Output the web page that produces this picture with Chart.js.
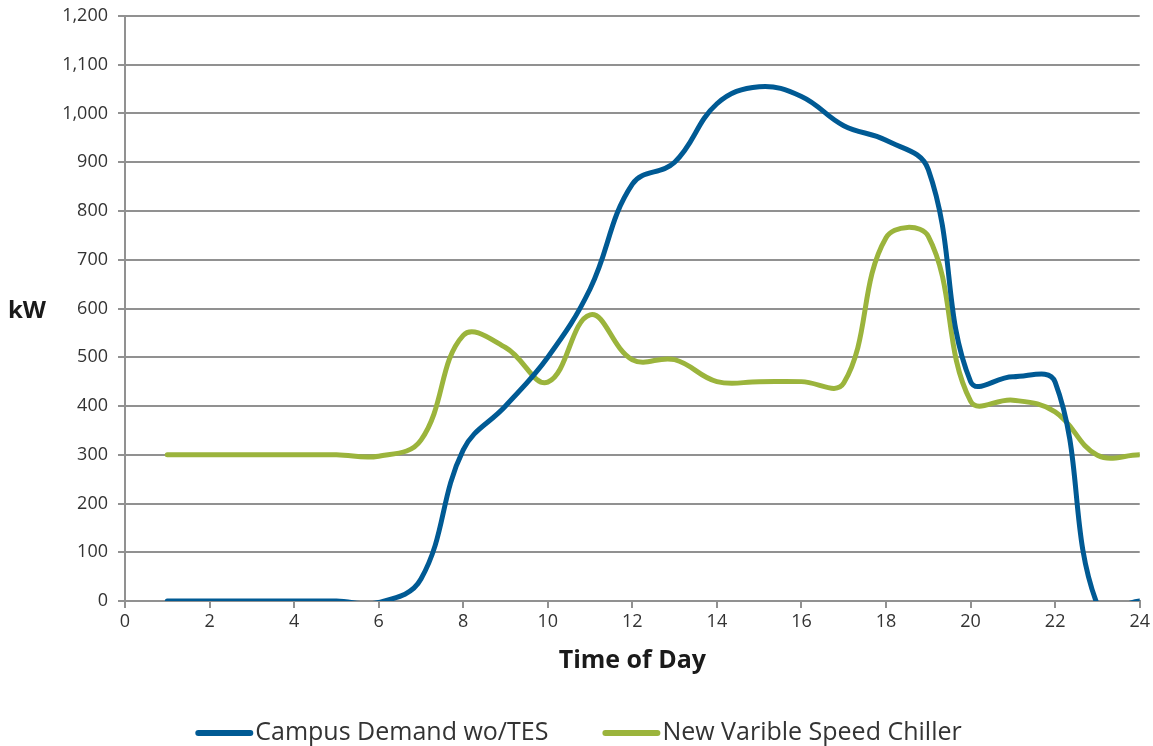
<!DOCTYPE html>
<html>
<head>
<meta charset="utf-8">
<script src="https://cdn.jsdelivr.net/npm/chart.js@4.4.0/dist/chart.umd.min.js"></script>
<style>
  html, body { margin: 0; padding: 0; background: #fff; }
  #wrap { width: 1153px; height: 746px; position: relative; }
</style>
</head>
<body>
<div id="wrap"><canvas id="loadChart"></canvas></div>
<script>
const hours = [1, 2, 3, 4, 5, 6, 7, 8, 9, 10, 11, 12, 13, 14, 15, 16, 17, 18, 19, 20, 21, 22, 23, 24];
const campusDemand = [0, 0, 0, 0, 0, -3, 45, 310, 400, 500, 640, 855, 900, 1020, 1055, 1035, 975, 945, 885, 450, 460, 449, -8, 0];
const varSpeedChiller = [300, 300, 300, 300, 300, 297, 330, 545, 520, 449, 587, 495, 495, 450, 450, 450, 447, 745, 748, 410, 412, 388, 299, 300];
const seriesNames = ['Campus Demand wo/TES', 'New Varible Speed Chiller'];

const chartConfig = {
    fontColor: '#333333',
    gridColor: '#919191',
    blue: '#005a94',
    green: '#9bb43c',
    font: '"Open Sans", Lato, sans-serif'
};

function toPoints(values) {
    return hours.map((h, i) => ({ x: h, y: values[i] }));
}

// horizontal "kW" label on the left of the plot
const yLabelPlugin = {
    id: 'yLabel',
    afterDraw(chart) {
        const { ctx } = chart;
        ctx.save();
        ctx.font = 'bold 24px ' + chartConfig.font;
        ctx.fillStyle = '#1a1a1a';
        ctx.textAlign = 'center';
        ctx.textBaseline = 'middle';
        ctx.fillText('kW', 27, chart.scales.y.getPixelForValue(600) + 3);
        ctx.restore();
    }
};

// legend drawn as thick round-capped line + label, like the original
const lineLegendPlugin = {
    id: 'lineLegend',
    afterDraw(chart) {
        const { ctx, width } = chart;
        const sample = 58, gap = 2, itemGap = 54, y = 733;
        ctx.save();
        ctx.font = '25px ' + chartConfig.font;
        const items = chart.data.datasets.map(ds => ({
            text: ds.label,
            color: ds.borderColor,
            w: sample + gap + ctx.measureText(ds.label).width
        }));
        const total = items.reduce((s, it) => s + it.w, 0) + itemGap * (items.length - 1);
        let x = (width - total) / 2 + 2;
        items.forEach(it => {
            ctx.strokeStyle = it.color;
            ctx.lineWidth = 6;
            ctx.lineCap = 'round';
            ctx.beginPath();
            ctx.moveTo(x + 3, y);
            ctx.lineTo(x + sample - 3, y);
            ctx.stroke();
            ctx.fillStyle = chartConfig.fontColor;
            ctx.textAlign = 'left';
            ctx.textBaseline = 'middle';
            ctx.fillText(it.text, x + sample + gap, y);
            x += it.w + itemGap;
        });
        ctx.restore();
    }
};

new Chart(document.getElementById('loadChart'), {
    type: 'line',
    data: {
        datasets: [{
            label: seriesNames[0],
            data: toPoints(campusDemand),
            borderColor: chartConfig.blue,
            backgroundColor: chartConfig.blue,
            borderWidth: 5,
            pointRadius: 0,
            tension: 0.4,
            borderCapStyle: 'round'
        }, {
            label: seriesNames[1],
            data: toPoints(varSpeedChiller),
            borderColor: chartConfig.green,
            backgroundColor: chartConfig.green,
            borderWidth: 5,
            pointRadius: 0,
            tension: 0.4,
            borderCapStyle: 'round'
        }]
    },
    options: {
        responsive: true,
        maintainAspectRatio: false,
        animation: false,
        layout: {
            padding: { top: 16, right: 13, left: 0, bottom: 66 }
        },
        scales: {
            x: {
                type: 'linear',
                min: 0,
                max: 24,
                afterFit: (scale) => { scale.height = 79; },
                grid: {
                    drawOnChartArea: false,
                    color: chartConfig.gridColor,
                    lineWidth: 2,
                    tickLength: 7
                },
                border: { color: chartConfig.gridColor, width: 2 },
                ticks: {
                    stepSize: 2,
                    color: chartConfig.fontColor,
                    padding: 3,
                    font: { family: chartConfig.font, size: 18 }
                },
                title: {
                    display: true,
                    text: 'Time of Day',
                    color: '#1a1a1a',
                    padding: { top: 4, bottom: 4 },
                    font: { family: chartConfig.font, size: 25, weight: 'bold' }
                }
            },
            y: {
                min: 0,
                max: 1200,
                afterFit: (scale) => {
                    scale.width = 125;
                    scale.paddingTop = 0;
                    scale.paddingBottom = 0;
                },
                grid: {
                    color: chartConfig.gridColor,
                    lineWidth: 2,
                    tickLength: 7
                },
                border: { color: chartConfig.gridColor, width: 2 },
                ticks: {
                    stepSize: 100,
                    color: chartConfig.fontColor,
                    padding: 10,
                    font: { family: chartConfig.font, size: 18 },
                    callback: (v) => v.toLocaleString('en-US')
                }
            }
        },
        plugins: {
            legend: { display: false },
            tooltip: { enabled: false }
        }
    },
    plugins: [yLabelPlugin, lineLegendPlugin]
});
</script>
</body>
</html>
